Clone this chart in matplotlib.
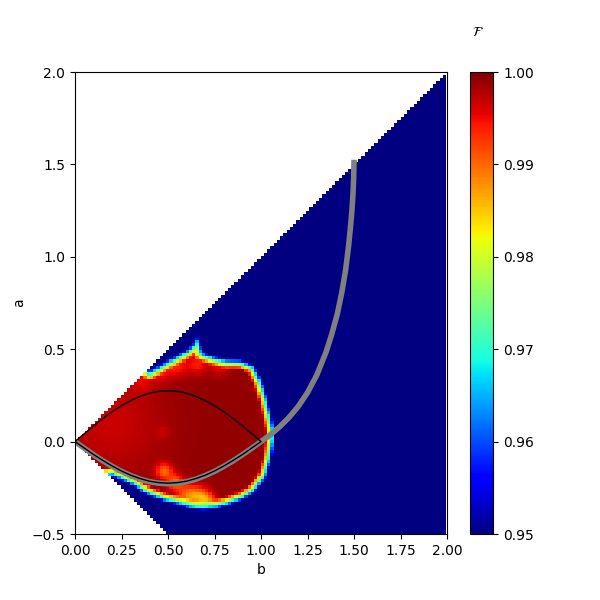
import numpy as np
import matplotlib
matplotlib.use("Agg")
import matplotlib.pyplot as plt
from matplotlib.path import Path

# ---- data ----
# outline of the high-fidelity region (b, a)
blob_b = [-0.10, 0.12, 0.20, 0.242, 0.314, 0.385, 0.475, 0.547, 0.618, 0.69, 0.762,
          0.833, 0.905, 0.968, 1.022, 1.048, 1.066, 1.064, 1.05, 1.024, 0.995,
          0.958, 0.89, 0.815, 0.744, 0.681, 0.668, 0.655, 0.64, 0.60, 0.51, 0.40, 0.34]
blob_a = [0.0, -0.19, -0.18, -0.199, -0.235, -0.28, -0.316, -0.334, -0.356, -0.366, -0.356,
          -0.334, -0.307, -0.262, -0.19, -0.10, 0.009, 0.07, 0.135, 0.243, 0.333,
          0.405, 0.435, 0.438, 0.455, 0.478, 0.52, 0.555, 0.52, 0.488, 0.44, 0.375, 0.44]
# fidelity inside the region and local dips (b, a, radius, drop)
base_value = 0.9992
patch_b = [0.20, 0.47, 0.48, 0.54, 0.61, 0.68, 0.72, 0.55, 0.66, 0.78, 0.36, 0.46]
patch_a = [0.10, 0.05, -0.16, -0.22, -0.29, -0.30, -0.33, 0.41, 0.42, 0.41, 0.33, 0.38]
patch_r = [0.20, 0.025, 0.03, 0.03, 0.04, 0.035, 0.03, 0.04, 0.04, 0.035, 0.04, 0.04]
patch_drop = [0.0025, 0.0015, 0.009, 0.009, 0.010, 0.010, 0.008, 0.005, 0.005, 0.004, 0.003, 0.004]

# black closed curve (upper and lower arcs)
arc_b = [0.0, 0.05, 0.1, 0.15, 0.2, 0.25, 0.3, 0.35, 0.4, 0.45, 0.5,
         0.55, 0.6, 0.65, 0.7, 0.75, 0.8, 0.85, 0.9, 0.95, 1.0]
arc_upper = [0.0, 0.043, 0.085, 0.125, 0.162, 0.194, 0.222, 0.245, 0.262, 0.272, 0.275,
             0.272, 0.262, 0.245, 0.222, 0.194, 0.162, 0.125, 0.085, 0.043, 0.0]
arc_lower = [0.0, -0.035, -0.070, -0.102, -0.132, -0.159, -0.182, -0.200, -0.214, -0.222, -0.225,
             -0.222, -0.214, -0.200, -0.182, -0.159, -0.132, -0.102, -0.070, -0.035, 0.0]
# gray path
gray_b = arc_b + [1.05, 1.10, 1.15, 1.20, 1.25, 1.30, 1.35, 1.38, 1.41, 1.435, 1.455,
                  1.47, 1.48, 1.488, 1.494, 1.498, 1.50]
gray_a = [0.0, -0.036, -0.071, -0.104, -0.134, -0.161, -0.184, -0.203, -0.217, -0.225, -0.228,
          -0.225, -0.217, -0.203, -0.184, -0.161, -0.134, -0.104, -0.071, -0.036, 0.0] + \
         [0.037, 0.080, 0.130, 0.190, 0.265, 0.36, 0.485, 0.58, 0.69, 0.81, 0.93,
          1.05, 1.15, 1.24, 1.33, 1.42, 1.51]

x_ticks = [0.0, 0.25, 0.5, 0.75, 1.0, 1.25, 1.5, 1.75, 2.0]
y_ticks = [-0.5, 0.0, 0.5, 1.0, 1.5, 2.0]
cbar_ticks = [0.95, 0.96, 0.97, 0.98, 0.99, 1.00]

# ---- grid ----
step = 0.0175
b_edges = np.arange(0, 2 + step / 2, step)
a_edges = np.arange(-0.5, 2 + step / 2, step)
bc = 0.5 * (b_edges[:-1] + b_edges[1:])
ac = 0.5 * (a_edges[:-1] + a_edges[1:])
B, A = np.meshgrid(bc, ac)
pts = np.column_stack([B.ravel(), A.ravel()])

poly = np.column_stack([blob_b, blob_a])
inside = Path(poly).contains_points(pts)
seg1 = np.roll(poly, -1, axis=0)
dmin = np.full(len(pts), np.inf)
for p0, p1 in zip(poly, seg1):
    v = p1 - p0
    t = np.clip(((pts - p0) @ v) / (v @ v), 0, 1)
    proj = p0 + t[:, None] * v
    dmin = np.minimum(dmin, np.hypot(*(pts - proj).T))
d = np.where(inside, dmin, -dmin).reshape(B.shape)

val = np.full(B.shape, base_value)
for pb, pa, pr, pdrop in zip(patch_b, patch_a, patch_r, patch_drop):
    val -= pdrop * np.exp(-((B - pb) ** 2 + (A - pa) ** 2) / (2 * pr ** 2))
f = np.clip((d + 0.012) / 0.055, 0, 1) ** 0.8
F = 0.945 + (val - 0.945) * f
F = np.ma.masked_where((A > B) | (A < -B), F)

fig, ax = plt.subplots(figsize=(6, 6), dpi=100)
im = ax.pcolormesh(b_edges, a_edges, F, cmap="jet", vmin=0.95, vmax=1.0)
ax.plot(gray_b, gray_a, color="gray", lw=4)
ax.plot(arc_b + arc_b[::-1], arc_upper + arc_lower[::-1], color="k", lw=1)
ax.set_xlim(0, 2)
ax.set_ylim(-0.5, 2)
ax.set_xticks(x_ticks)
ax.set_yticks(y_ticks)
ax.set_xlabel("b")
ax.set_ylabel("a")
cbar = fig.colorbar(im, ax=ax, ticks=cbar_ticks)
cbar.ax.set_yticklabels([f"{t:.2f}" for t in cbar_ticks])
fig.text(478 / 600, 1 - 32 / 600, r"$\mathcal{F}$", ha="center", va="center")
fig.savefig("out.png")
